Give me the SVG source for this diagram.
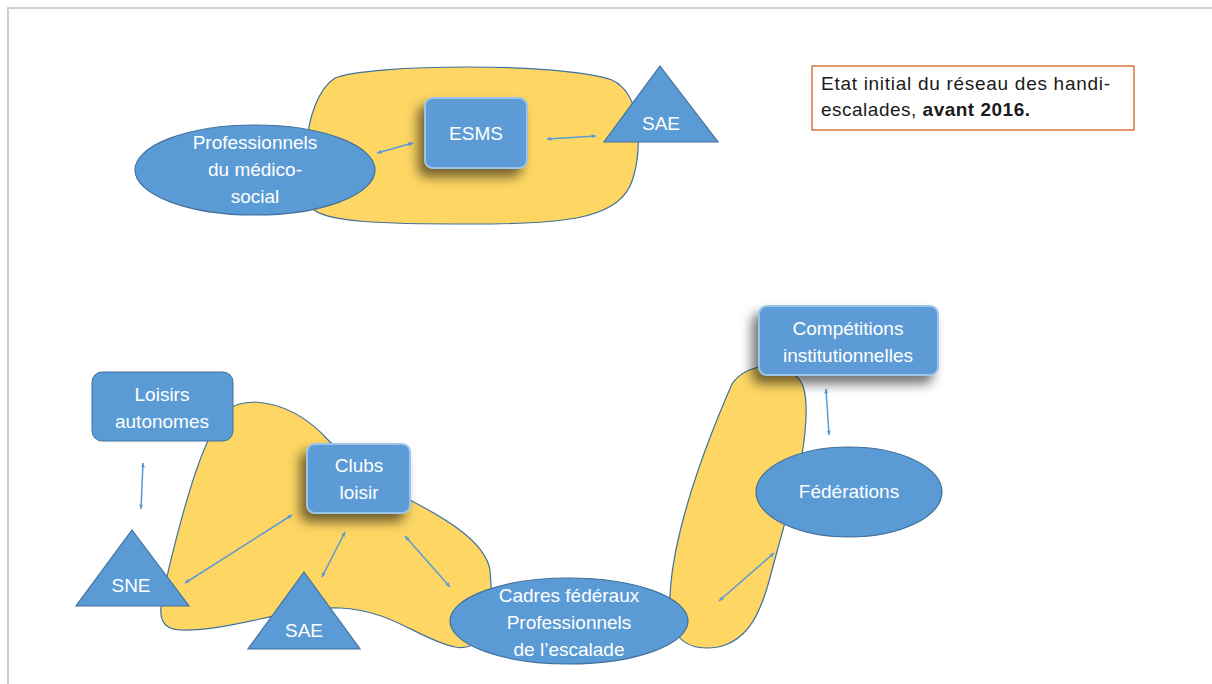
<svg xmlns="http://www.w3.org/2000/svg" width="1212" height="684" viewBox="0 0 1212 684">
<style>
.blob{fill:#fdd663;stroke:#41719c;stroke-width:1.2}
.shape{fill:#5b9bd5;stroke:#41719c;stroke-width:1.2}
.box{fill:#5b9bd5;stroke:#9cc3e8;stroke-width:2}
.plain{fill:#5b9bd5;stroke:#41719c;stroke-width:1}
.lbl{font-family:"Liberation Sans",Arial,sans-serif;font-size:19px;fill:#ffffff;text-anchor:middle}
.note{font-family:"Liberation Sans",Arial,sans-serif;font-size:19px;fill:#1a1a1a}
.conn line{stroke:#5b9bd5;stroke-width:1.5;marker-start:url(#ah);marker-end:url(#ah)}
</style>
<defs>
<marker id="ah" viewBox="0 0 10 10" refX="9" refY="5" markerWidth="5" markerHeight="5" orient="auto-start-reverse" markerUnits="userSpaceOnUse">
<path d="M0,1 L10,5 L0,9 Z" fill="#5b9bd5"/>
</marker>
<filter id="sh" x="-40%" y="-40%" width="180%" height="190%">
<feDropShadow dx="-6" dy="8" stdDeviation="6" flood-color="#000" flood-opacity="0.55"/>
</filter>
</defs>
<rect width="1212" height="684" fill="#ffffff"/>
<path d="M8,684 L8,8 L1212,8" fill="none" stroke="#cfcfcf" stroke-width="2"/>

<g id="blob-top"><path class="blob" d="M335,78 C370,64 560,62 612,80 C645,95 642,160 630,186 C614,220 560,224 470,224 C380,224 330,222 314,210 C300,195 300,100 335,78 Z"/></g>
<g id="blob-left"><path class="blob" d="M207,443 C215,410 235,402 255,402 C290,404 315,425 330,442 L400,495 C440,515 485,540 490,570 L492,600 C492,640 472,650 455,647 C420,640 392,610 340,608 C290,606 230,632 180,630 C160,629 159,615 162,600 C170,560 190,480 207,443 Z"/></g>
<g id="blob-right"><path class="blob" d="M732,384 C748,360 792,360 803,386 C811,410 802,460 796,482 L772,570 C762,610 750,640 718,647 C688,652 671,638 670,610 C668,560 690,480 732,384 Z"/></g>

<g class="conn" id="connectors">
<line x1="377" y1="153" x2="413" y2="143"/>
<line x1="547" y1="139" x2="596" y2="136"/>
<line x1="143" y1="463" x2="141" y2="509"/>
<line x1="185" y1="583" x2="292" y2="515"/>
<line x1="345" y1="532" x2="322" y2="577"/>
<line x1="405" y1="536" x2="450" y2="587"/>
<line x1="719" y1="601" x2="774" y2="553"/>
<line x1="826" y1="389" x2="829" y2="435"/>
</g>

<g id="prof-medico"><ellipse class="shape" cx="255" cy="170" rx="120" ry="45"/>
<text class="lbl" x="255" y="149">Professionnels</text><text class="lbl" x="255" y="176">du médico-</text><text class="lbl" x="255" y="203">social</text></g>
<g id="esms"><rect class="box" x="425" y="98" width="102" height="70" rx="8" filter="url(#sh)"/>
<text class="lbl" x="476" y="140">ESMS</text></g>
<g id="sae-top"><polygon class="shape" points="660,66 718,142 604,142"/>
<text class="lbl" x="661" y="130">SAE</text></g>

<g id="note"><rect x="812" y="66" width="322" height="64" fill="#ffffff" stroke="#d9773f" stroke-width="1.5"/>
<text class="note" x="821" y="90" textLength="289" lengthAdjust="spacing">Etat initial du réseau des handi-</text>
<text class="note" x="821" y="116" textLength="209" lengthAdjust="spacing">escalades, <tspan font-weight="bold">avant 2016.</tspan></text></g>

<g id="loisirs"><rect class="plain" x="92" y="372" width="141" height="69" rx="10"/>
<text class="lbl" x="162" y="401">Loisirs</text><text class="lbl" x="162" y="428">autonomes</text></g>
<g id="clubs"><rect class="box" x="307" y="444" width="103" height="69" rx="8" filter="url(#sh)"/>
<text class="lbl" x="359" y="472">Clubs</text><text class="lbl" x="359" y="499">loisir</text></g>
<g id="sne"><polygon class="shape" points="132,530 189,606 76,606"/>
<text class="lbl" x="131" y="592">SNE</text></g>
<g id="sae-bottom"><polygon class="shape" points="304,572 360,649 248,649"/>
<text class="lbl" x="304" y="637">SAE</text></g>
<g id="cadres"><ellipse class="shape" cx="569" cy="621" rx="119" ry="43"/>
<text class="lbl" x="569" y="602">Cadres fédéraux</text><text class="lbl" x="569" y="629">Professionnels</text><text class="lbl" x="569" y="656">de l’escalade</text></g>
<g id="competitions"><rect class="box" x="759" y="306" width="179" height="69" rx="8" filter="url(#sh)"/>
<text class="lbl" x="848" y="335">Compétitions</text><text class="lbl" x="848" y="362">institutionnelles</text></g>
<g id="federations"><ellipse class="shape" cx="849" cy="492" rx="93" ry="45"/>
<text class="lbl" x="849" y="498">Fédérations</text></g>
</svg>
